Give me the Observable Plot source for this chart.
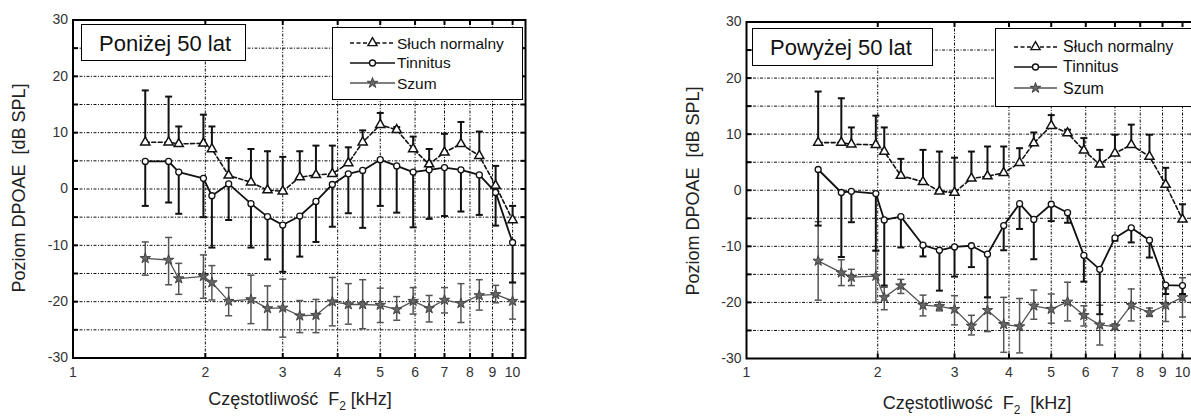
<!DOCTYPE html>
<html>
<head>
<meta charset="utf-8">
<script src="https://cdn.jsdelivr.net/npm/d3@7"></script>
<script src="https://cdn.jsdelivr.net/npm/@observablehq/plot@0.6"></script>
<style>
  html, body { margin: 0; padding: 0; background: #fff; overflow: hidden; }
  #root { position: relative; width: 1191px; height: 419px; overflow: hidden; background: #fff;
          font-family: "Liberation Sans", Arial, Helvetica, sans-serif; color: #111; }
  .box { position: absolute; box-sizing: border-box; border: 1.5px solid #000; background: #fff; }
  .t { position: absolute; white-space: nowrap; line-height: 1; transform: translateY(-50%); }
  .ylab { position: absolute; white-space: pre; line-height: 1; font-size: 18px; color: #222;
          transform: translate(-50%, -50%) rotate(-90deg); }
  .xlab { position: absolute; white-space: pre; line-height: 1; font-size: 18px; color: #222;
          transform: translate(-50%, -50%); }
  .xlab sub { font-size: 12px; vertical-align: -5px; }
</style>
</head>
<body>
<div id="root"></div>
<script>
// ---------------- data ----------------
const freq = [1.46, 1.65, 1.74, 1.98, 2.07, 2.26, 2.54, 2.77, 3.0, 3.28, 3.57, 3.89,
              4.23, 4.56, 5.0, 5.45, 5.94, 6.46, 7.0, 7.63, 8.4, 9.15, 10.0];

// Poniżej 50 lat
const normL    = [8.3, 8.3, 8.0, 8.1, 7.1, 2.4, 1.2, -0.2, -0.4, 2.1, 2.5, 2.7, 4.6, 8.3, 11.4, 10.5, 7.1, 4.4, 6.5, 8.0, 5.9, 0.6, -5.5];
const normLTop = [17.5, 16.4, 11.1, 13.2, 11.1, 5.5, 7.1, 6.7, 5.7, 6.7, 7.7, 7.7, 7.4, 10.4, 13.5, 11.0, 9.3, 7.1, 9.8, 11.9, 10.2, 4.1, -3.0];
const tinL     = [4.9, 4.9, 3.0, 1.9, -1.2, 0.9, -2.6, -4.9, -6.4, -4.8, -2.2, 0.8, 2.7, 3.3, 5.2, 4.1, 3.0, 3.4, 3.8, 3.4, 2.5, -0.6, -9.5];
const tinLBot  = [-3.0, -2.4, -4.4, -5.0, -10.4, -5.5, -10.4, -12.5, -14.7, -12.0, -9.4, -6.7, -4.3, -6.9, -3.0, -4.2, -6.8, -5.3, -4.8, -4.0, -4.6, -6.5, -16.6];
const szL      = [-12.3, -12.6, -15.9, -15.5, -16.6, -19.9, -19.6, -21.2, -21.1, -22.5, -22.4, -20.0, -20.5, -20.5, -20.6, -21.4, -19.9, -21.2, -19.7, -20.3, -18.9, -18.7, -19.9];
const szLTop   = [-9.4, -8.6, -13.2, -11.7, -13.6, -17.5, -15.3, -17.2, -16.0, -19.8, -19.6, -15.7, -16.8, -16.1, -17.6, -19.1, -17.5, -18.9, -17.5, -16.8, -16.1, -17.1, -16.6];
const szLBot   = [-15.3, -17.0, -18.7, -19.4, -19.7, -22.5, -23.9, -25.0, -26.3, -25.5, -25.5, -24.3, -24.0, -24.8, -23.7, -23.3, -22.2, -23.6, -22.0, -23.7, -21.5, -20.2, -23.1];

// Powyżej 50 lat
const normR    = [8.5, 8.5, 8.2, 8.1, 6.9, 2.6, 1.5, -0.2, -0.4, 2.1, 2.5, 3.1, 4.9, 8.4, 11.5, 10.2, 7.1, 4.6, 6.6, 8.1, 6.0, 1.0, -5.2];
const normRTop = [17.6, 16.4, 11.2, 13.3, 11.2, 5.6, 7.2, 6.9, 5.8, 6.9, 7.8, 7.8, 7.5, 10.3, 13.4, 10.8, 9.3, 7.2, 9.9, 11.7, 9.9, 4.0, -2.5];
const tinR     = [3.7, -0.4, -0.2, -0.6, -5.3, -4.7, -9.8, -10.7, -10.1, -9.9, -11.4, -6.3, -2.4, -5.2, -2.5, -4.0, -11.6, -14.1, -8.5, -6.7, -8.9, -16.9, -17.0];
const tinRBot  = [-6.3, -11.9, -5.7, -10.8, -17.0, -10.2, -11.8, -17.9, -15.4, -13.7, -19.1, -10.7, -6.9, -12.3, -5.5, -5.8, -16.3, -22.1, -9.0, -9.3, -12.0, -18.5, -18.5];
const szR      = [-12.6, -14.7, -15.5, -15.3, -19.1, -17.0, -20.5, -20.7, -21.2, -24.2, -21.4, -23.9, -24.3, -20.6, -21.2, -19.9, -22.3, -24.0, -24.3, -20.5, -21.8, -20.5, -19.1];
const szRTop   = [-5.6, -12.4, -14.1, -10.7, -17.3, -15.9, -18.7, -20.0, -18.8, -22.3, -19.1, -19.1, -19.3, -17.8, -18.5, -16.4, -20.6, -20.5, -23.8, -17.6, -21.0, -17.6, -15.6];
const szRBot   = [-19.6, -17.0, -17.0, -20.0, -21.3, -18.4, -22.4, -21.5, -24.0, -25.8, -25.2, -28.9, -29.0, -23.0, -23.7, -23.3, -24.2, -27.6, -24.8, -23.3, -22.5, -23.4, -22.6];

// ticks / grid
const xTicks = [1, 2, 3, 4, 5, 6, 7, 8, 9, 10];
const xGrid  = [2, 3, 4, 5, 6, 7, 8, 9, 10];
const yTicks = [-30, -20, -10, 0, 10, 20, 30];
const yGrid  = [-25, -20, -15, -10, -5, 0, 5, 10, 15, 20, 25];

const seriesNames = ["Słuch normalny", "Tinnitus", "Szum"];
const yTitle = "Poziom DPOAE  [dB SPL]";

// ---------------- helpers ----------------
const FONT = '"Liberation Sans", Arial, Helvetica, sans-serif';
const capSym = {draw(ctx, size) { const r = Math.sqrt(size / Math.PI); ctx.moveTo(-r, 0); ctx.lineTo(r, 0); }};
const tickSym = (dx, dy) => ({draw(ctx, size) { const r = Math.sqrt(size / Math.PI); ctx.moveTo(0, 0); ctx.lineTo(dx * r, dy * r); }});
const GRID = {stroke: "#111", strokeOpacity: 1, strokeWidth: 1, strokeDasharray: "3,1.5,1,1.5"};
const R_TRI = 3.4, R_CIR = 3, R_STAR = 3.3;

function panel(c) {
  const norm = freq.map((f, i) => ({f, v: c.normV[i], e: c.normE[i]}));
  const tin  = freq.map((f, i) => ({f, v: c.tinV[i], e: c.tinE[i]}));
  const sz   = freq.map((f, i) => ({f, v: c.szV[i], lo: c.szLo[i], hi: c.szHi[i]}));
  return Plot.plot({
    width: c.width, height: 419,
    marginLeft: c.ml, marginRight: c.mr, marginTop: c.mt, marginBottom: c.mb,
    style: {fontFamily: FONT, fontSize: "14px", color: "#333", background: "transparent", overflow: "visible"},
    x: {type: "log", domain: [1, 10.7], ticks: xTicks, tickFormat: d => String(d), tickSize: 0, tickPadding: 9, label: null},
    y: {domain: [-30, 30], ticks: yTicks, tickFormat: d => String(d), tickSize: 0, tickPadding: 5, label: null},
    marks: [
      Plot.ruleY(yGrid, GRID),
      Plot.ruleX(xGrid, GRID),
      // Szum
      Plot.ruleX(sz, {x: "f", y1: "lo", y2: "hi", stroke: "#555", strokeWidth: 1.5}),
      Plot.dot(sz, {x: "f", y: "lo", symbol: capSym, r: 3.5, stroke: "#555", fill: "none", strokeWidth: 1.5}),
      Plot.dot(sz, {x: "f", y: "hi", symbol: capSym, r: 3.5, stroke: "#555", fill: "none", strokeWidth: 1.5}),
      Plot.line(sz, {x: "f", y: "v", stroke: "#555", strokeWidth: 1.3}),
      Plot.dot(sz, {x: "f", y: "v", symbol: "star", r: R_STAR, fill: "#666", stroke: "#444", strokeWidth: 1}),
      // Tinnitus
      Plot.ruleX(tin, {x: "f", y1: "v", y2: "e", stroke: "#111", strokeWidth: 2}),
      Plot.dot(tin, {x: "f", y: "e", symbol: capSym, r: 3.5, stroke: "#111", fill: "none", strokeWidth: 2}),
      Plot.line(tin, {x: "f", y: "v", stroke: "#111", strokeWidth: 1.8}),
      Plot.dot(tin, {x: "f", y: "v", symbol: "circle", r: R_CIR, fill: "white", stroke: "#111", strokeWidth: 1.3}),
      // Słuch normalny
      Plot.ruleX(norm, {x: "f", y1: "v", y2: "e", stroke: "#111", strokeWidth: 2}),
      Plot.dot(norm, {x: "f", y: "e", symbol: capSym, r: 3.5, stroke: "#111", fill: "none", strokeWidth: 2}),
      Plot.line(norm, {x: "f", y: "v", stroke: "#111", strokeWidth: 1.6, strokeDasharray: "4,2.5"}),
      Plot.dot(norm, {x: "f", y: "v", symbol: "triangle", r: R_TRI, fill: "white", stroke: "#111", strokeWidth: 1.5}),
      // frame + inward ticks
      Plot.frame({stroke: "#000", strokeWidth: 2}),
      Plot.dot(yGrid, {y: d => d, frameAnchor: "left", symbol: tickSym(1, 0), r: 5, stroke: "#000", strokeWidth: 2}),
      Plot.dot(yGrid, {y: d => d, frameAnchor: "right", symbol: tickSym(-1, 0), r: 5, stroke: "#000", strokeWidth: 2}),
      Plot.dot(xGrid, {x: d => d, frameAnchor: "top", symbol: tickSym(0, 1), r: 5, stroke: "#000", strokeWidth: 2}),
      Plot.dot(xGrid, {x: d => d, frameAnchor: "bottom", symbol: tickSym(0, -1), r: 5, stroke: "#000", strokeWidth: 2})
    ]
  });
}

const root = document.getElementById("root");

function place(el, left, top) {
  el.style.position = "absolute"; el.style.left = left + "px"; el.style.top = top + "px";
  root.appendChild(el);
}

const left = panel({width: 600, ml: 72.5, mr: 75, mt: 19.5, mb: 61.5,
  normV: normL, normE: normLTop, tinV: tinL, tinE: tinLBot, szV: szL, szLo: szLBot, szHi: szLTop});
place(left, 0, 0);
const right = panel({width: 600, ml: 73, mr: 78.2, mt: 21.5, mb: 61,
  normV: normR, normE: normRTop, tinV: tinR, tinE: tinRBot, szV: szR, szLo: szRBot, szHi: szRTop});
place(right, 673, 0);

function div(cls, html, css) {
  const d = document.createElement("div");
  d.className = cls; d.innerHTML = html;
  Object.assign(d.style, css);
  root.appendChild(d);
  return d;
}

// title boxes
function titleBox(text, x0, y0, x1, y1, tx) {
  div("box", "", {left: x0 + "px", top: y0 + "px", width: (x1 - x0) + "px", height: (y1 - y0) + "px"});
  div("t", text, {left: tx + "px", top: ((y0 + y1) / 2 + 1) + "px", fontSize: "22px"});
}
titleBox("Poniżej 50 lat", 80.5, 24, 246, 61, 99);
titleBox("Powyżej 50 lat", 751.5, 28, 933, 66, 770);

// legends
function sample(kind, w, mx) {
  const s = d3.create("svg").attr("width", w).attr("height", 14).style("overflow", "visible");
  const col = kind === 2 ? "#555" : "#111";
  s.append("line").attr("x1", 0).attr("x2", w).attr("y1", 7).attr("y2", 7)
    .attr("stroke", col).attr("stroke-width", kind === 2 ? 1.3 : 1.7)
    .attr("stroke-dasharray", kind === 0 ? "4,2.5" : null);
  const sym = [d3.symbolTriangle, d3.symbolCircle, d3.symbolStar][kind];
  const r = [R_TRI, R_CIR, R_STAR][kind];
  s.append("path").attr("d", d3.symbol(sym, r * r * Math.PI)())
    .attr("transform", `translate(${mx},7)`)
    .attr("fill", kind === 2 ? "#666" : "white")
    .attr("stroke", kind === 2 ? "#444" : "#111").attr("stroke-width", kind === 2 ? 1 : 1.4);
  return s.node();
}
function legend(x0, y0, x1, y1, lx0, lx1, tx, ys, fs) {
  div("box", "", {left: x0 + "px", top: y0 + "px", width: (x1 - x0) + "px", height: (y1 - y0) + "px"});
  seriesNames.forEach((name, i) => {
    const s = sample(i, lx1 - lx0, (lx1 - lx0) / 2);
    place(s, lx0, ys[i] - 7);
    div("t", name, {left: tx + "px", top: (ys[i] + 0.5) + "px", fontSize: fs + "px"});
  });
}
legend(331.5, 26.5, 522.5, 100, 350, 395, 397, [43.3, 62.7, 83.3], 15.5);
legend(995, 28.3, 1200, 107.3, 1014, 1057, 1063, [46.7, 66.7, 88.3], 16);

// axis titles
div("ylab", yTitle, {left: "19px", top: "188px"});
div("ylab", yTitle, {left: "693px", top: "191px"});
div("xlab", "Częstotliwość  F<sub>2</sub> [kHz]", {left: "300px", top: "401px"});
div("xlab", "Częstotliwość  F<sub>2</sub>  [kHz]", {left: "977px", top: "405px"});
</script>
</body>
</html>
